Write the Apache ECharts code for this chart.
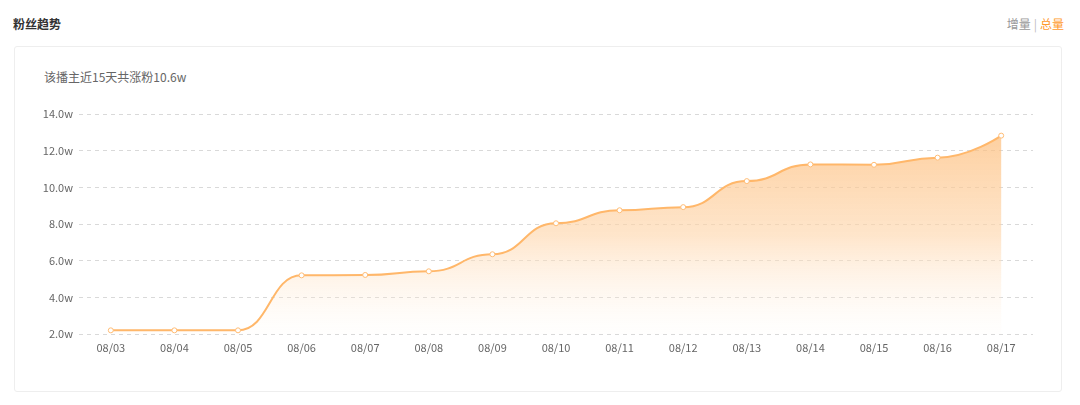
<!DOCTYPE html>
<html>
<head>
<meta charset="utf-8">
<script src="https://cdn.jsdelivr.net/npm/echarts@6/dist/echarts.min.js"></script>
<style>
html,body{margin:0;padding:0;background:#fff;width:1080px;height:405px;overflow:hidden;font-family:"Microsoft YaHei","Noto Sans CJK SC",sans-serif;}
#title{position:absolute;left:13px;top:15px;font-size:12px;font-weight:bold;color:#333;}
#switch{position:absolute;right:16px;top:15px;font-size:12px;color:#999;}
#switch .on{color:#ff9a2e;}
#switch .sep{color:#bbb;margin:0 3px;}
#card{position:absolute;left:14px;top:46px;width:1048px;height:346px;border:1px solid #eeeeee;border-radius:3px;box-sizing:border-box;}
#sub{position:absolute;left:44px;top:68px;font-size:12px;color:#666;}
#chart{position:absolute;left:0;top:0;width:1080px;height:405px;}
</style>
</head>
<body>
<div id="title">粉丝趋势</div>
<div id="switch"><span>增量</span><span class="sep">|</span><span class="on">总量</span></div>
<div id="card"></div>
<div id="sub">该播主近15天共涨粉10.6w</div>
<div id="chart"></div>
<script>
var categories = ['08/03','08/04','08/05','08/06','08/07','08/08','08/09','08/10','08/11','08/12','08/13','08/14','08/15','08/16','08/17'];
var fans = [2.2, 2.2, 2.2, 5.2, 5.22, 5.42, 6.35, 8.04, 8.75, 8.92, 10.34, 11.25, 11.23, 11.62, 12.82];
var yTicks = {min: 2, max: 14, interval: 2};

var chart = echarts.init(document.getElementById('chart'), null, {renderer: 'canvas'});
chart.setOption({
  animation: false,
  grid: {left: 79, right: 47, top: 114, bottom: 71},
  xAxis: {
    type: 'category',
    data: categories,
    boundaryGap: true,
    axisLine: {show: false},
    axisTick: {show: false},
    axisLabel: {color: '#666', fontSize: 11, margin: 8, fontFamily: 'Microsoft YaHei, Noto Sans CJK SC, sans-serif'}
  },
  yAxis: {
    type: 'value',
    min: yTicks.min, max: yTicks.max, interval: yTicks.interval,
    axisLine: {show: false},
    axisTick: {show: false},
    axisLabel: {color: '#666', fontSize: 11, margin: 6, formatter: function(v){return v.toFixed(1) + 'w';}, fontFamily: 'Microsoft YaHei, Noto Sans CJK SC, sans-serif'},
    splitLine: {lineStyle: {color: '#d9d9d9', type: [4, 4], width: 1}}
  },
  series: [{
    type: 'line',
    data: fans,
    smooth: 0.5,
    smoothMonotone: 'x',
    symbol: 'circle',
    symbolSize: 5,
    itemStyle: {color: '#fff', borderColor: '#ffbc75', borderWidth: 1},
    lineStyle: {color: '#ffb76a', width: 2},
    areaStyle: {
      origin: 'start',
      color: new echarts.graphic.LinearGradient(0, 0, 0, 1, [
        {offset: 0, color: 'rgba(253,188,120,1)'},
        {offset: 0.5, color: 'rgba(254,214,172,0.9)'},
        {offset: 1, color: 'rgba(255,244,232,0.1)'}
      ])
    }
  }]
});
</script>
</body>
</html>
